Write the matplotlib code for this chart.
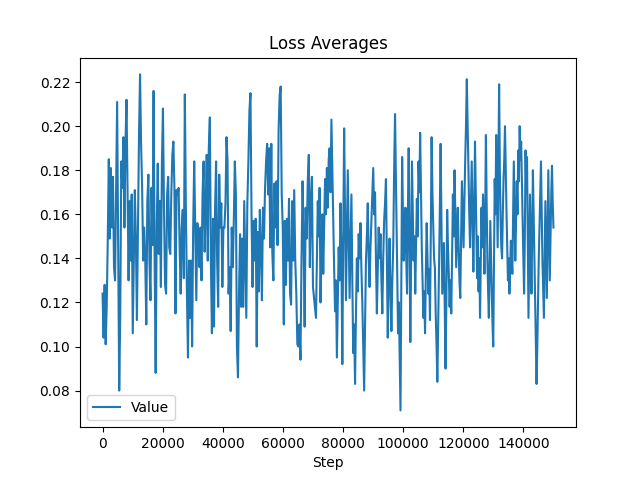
import matplotlib
matplotlib.use("Agg")
import matplotlib.pyplot as plt
import numpy as np

# loss values, left to right, in four stretches
# steps 0 .. ~70000
part1 = [0.124, 0.104, 0.128, 0.101, 0.118, 0.148, 0.185, 0.149, 0.181, 0.154,
         0.177, 0.136, 0.130, 0.172, 0.211, 0.145, 0.080, 0.115, 0.184, 0.172,
         0.195, 0.154, 0.192, 0.212, 0.169, 0.130, 0.166, 0.139, 0.169, 0.106,
         0.139, 0.171, 0.148, 0.112, 0.154, 0.196, 0.2235, 0.192, 0.172, 0.139,
         0.154, 0.139, 0.110, 0.166, 0.178, 0.139, 0.121, 0.172, 0.146, 0.216,
         0.139, 0.088, 0.154, 0.183, 0.142, 0.166, 0.127, 0.184, 0.208, 0.162,
         0.128, 0.124, 0.169, 0.177, 0.145, 0.142, 0.169, 0.187, 0.193, 0.172,
         0.115, 0.171, 0.169, 0.172, 0.145, 0.124, 0.154,
         0.162, 0.131, 0.2144, 0.162, 0.124, 0.095, 0.139, 0.113, 0.139, 0.100,
         0.154, 0.184, 0.154, 0.121, 0.156, 0.151, 0.136, 0.154, 0.130, 0.169,
         0.184, 0.143, 0.162, 0.187, 0.139, 0.190, 0.204, 0.139, 0.106, 0.158,
         0.109, 0.162, 0.184, 0.139, 0.118, 0.178, 0.154, 0.165, 0.127, 0.154,
         0.154, 0.165, 0.195, 0.184, 0.124, 0.136, 0.107, 0.154, 0.136, 0.157,
         0.184, 0.169, 0.100, 0.086, 0.124, 0.151, 0.118, 0.149, 0.118, 0.166,
         0.139, 0.113, 0.165, 0.184, 0.207, 0.215, 0.160, 0.127, 0.157, 0.139,
         0.158, 0.100, 0.152, 0.125, 0.162, 0.145, 0.121, 0.163, 0.149, 0.172,
         0.184, 0.192, 0.169,
         0.190, 0.145, 0.192, 0.142, 0.130, 0.174, 0.154, 0.175, 0.146, 0.198,
         0.214, 0.218, 0.169, 0.154, 0.110, 0.157, 0.128, 0.158, 0.139, 0.167,
         0.124, 0.119, 0.166, 0.139, 0.171, 0.139, 0.124, 0.101, 0.100, 0.110,
         0.094, 0.139, 0.175, 0.151, 0.109, 0.163, 0.149, 0.175, 0.187, 0.136,
         0.166, 0.177, 0.127]
# ~71000 .. ~97300
part2 = [0.113, 0.140, 0.166, 0.150, 0.172, 0.120, 0.145, 0.160, 0.133, 0.155,
         0.176, 0.160, 0.181, 0.163, 0.185, 0.190, 0.170, 0.203, 0.180, 0.158,
         0.135, 0.116, 0.130, 0.095, 0.120, 0.145, 0.130, 0.165, 0.140, 0.092,
         0.150, 0.199, 0.160, 0.121, 0.150, 0.180, 0.150, 0.122, 0.145, 0.169,
         0.130, 0.097, 0.110, 0.083, 0.115, 0.140, 0.125, 0.151, 0.140, 0.156,
         0.135, 0.120, 0.100, 0.080, 0.110, 0.139, 0.150, 0.165, 0.140, 0.127,
         0.145, 0.157, 0.170, 0.181, 0.160, 0.170, 0.140, 0.115, 0.135, 0.154,
         0.140, 0.151, 0.130, 0.115, 0.140, 0.157, 0.165, 0.176, 0.140, 0.104,
         0.130, 0.149, 0.125, 0.107, 0.130, 0.145, 0.180, 0.2055]
# ~98300 .. ~123900
part3 = [0.106, 0.120, 0.097, 0.071, 0.130, 0.186, 0.160, 0.139, 0.150, 0.163,
         0.140, 0.124, 0.160, 0.190, 0.150, 0.102, 0.140, 0.184, 0.160, 0.139,
         0.150, 0.124, 0.145, 0.167, 0.150, 0.184, 0.170, 0.197, 0.170, 0.145,
         0.130, 0.113, 0.125, 0.106, 0.135, 0.156, 0.140, 0.124, 0.135, 0.112,
         0.150, 0.195, 0.170, 0.154, 0.140, 0.136, 0.115, 0.101, 0.084, 0.110,
         0.136, 0.160, 0.192, 0.160, 0.124, 0.135, 0.147, 0.120, 0.090, 0.120,
         0.162, 0.145, 0.133, 0.118, 0.130, 0.115, 0.140, 0.169, 0.150, 0.180,
         0.160, 0.136, 0.150, 0.163, 0.145, 0.130, 0.122, 0.150, 0.175, 0.160,
         0.145, 0.165, 0.184, 0.200, 0.2213, 0.200, 0.181, 0.160, 0.145, 0.165,
         0.184, 0.160, 0.134, 0.160, 0.193]
# ~124600 .. 150000
part4 = [0.131, 0.150, 0.125, 0.140, 0.113, 0.140, 0.163, 0.145, 0.169, 0.150,
         0.133, 0.160, 0.196, 0.165, 0.140, 0.125, 0.113, 0.135, 0.157, 0.140,
         0.124, 0.110, 0.100, 0.140, 0.176, 0.160, 0.196, 0.170, 0.145, 0.180,
         0.219, 0.180, 0.157, 0.145, 0.140, 0.160, 0.176, 0.185, 0.200, 0.180,
         0.162, 0.145, 0.130, 0.140, 0.124, 0.135, 0.148, 0.140, 0.133, 0.160,
         0.184, 0.160, 0.139, 0.155, 0.175, 0.160, 0.189, 0.175, 0.200, 0.185,
         0.193, 0.175, 0.158, 0.140, 0.124, 0.150, 0.189, 0.170, 0.186, 0.150,
         0.113, 0.140, 0.169, 0.145, 0.124, 0.150, 0.180, 0.160, 0.142, 0.120,
         0.097, 0.083, 0.100, 0.120, 0.140, 0.154, 0.170, 0.184, 0.160, 0.139,
         0.125, 0.113, 0.140, 0.166, 0.145, 0.122, 0.150, 0.180, 0.155, 0.130,
         0.150, 0.169, 0.182, 0.165, 0.154]

# first and last step of each stretch
bounds = [(0, 70000), (71000, 97300), (98300, 123900), (124600, 150000)]
parts = [part1, part2, part3, part4]

values = part1 + part2 + part3 + part4
steps = np.concatenate([np.linspace(a, b, len(p)) for (a, b), p in zip(bounds, parts)])

plt.figure(figsize=(6.4, 4.8), dpi=100)
plt.plot(steps, values, label='Value')
plt.title('Loss Averages')
plt.xlabel('Step')
plt.legend(loc='lower left')
plt.savefig('out.png')
